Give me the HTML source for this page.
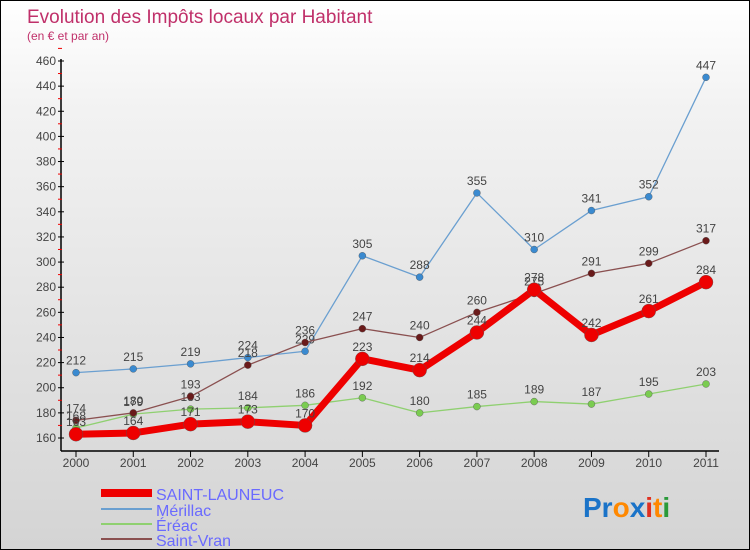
<!DOCTYPE html>
<html><head><meta charset="utf-8"><style>
body{margin:0}
#c{position:relative;width:748px;height:548px;border:1px solid #000;background:linear-gradient(#fff,#f2f2f2 20%,#d4d4d4);font-family:"Liberation Sans",sans-serif;overflow:hidden}
</style></head><body>
<div id="c">
<svg id="s" width="748" height="548" style="position:absolute;left:0;top:0" font-family="Liberation Sans, sans-serif">
<text x="26" y="22" font-size="19" fill="#c0306a">Evolution des Impôts locaux par Habitant</text>
<text x="26" y="39" font-size="12" fill="#c0306a">(en € et par an)</text>
<g id="axes"></g><g id="series"></g>
<g>
<line x1="100" y1="492" x2="151" y2="492" stroke="#e00" stroke-width="8"/>
<text x="155" y="499" font-size="16" fill="#6a6aff">SAINT-LAUNEUC</text>
<line x1="100" y1="508" x2="151" y2="508" stroke="#6a9fd0" stroke-width="2"/>
<text x="155" y="515" font-size="16" fill="#6a6aff">Mérillac</text>
<line x1="100" y1="523" x2="151" y2="523" stroke="#8fd070" stroke-width="2"/>
<text x="155" y="530" font-size="16" fill="#6a6aff">Éréac</text>
<line x1="100" y1="538" x2="151" y2="538" stroke="#8a5050" stroke-width="2"/>
<text x="155" y="545" font-size="16" fill="#6a6aff">Saint-Vran</text>
</g>
<text x="582" y="516" font-size="28" font-weight="bold"><tspan fill="#1a73c8">Pr</tspan><tspan fill="#ff8800">o</tspan><tspan fill="#1a73c8">x</tspan><tspan fill="#e03020">i</tspan><tspan fill="#ff8800">t</tspan><tspan fill="#2a9a3a">i</tspan></text>
</svg>
</div>
<script>
const years=[2000,2001,2002,2003,2004,2005,2006,2007,2008,2009,2010,2011];
const saintLauneuc=[163,164,171,173,170,223,214,244,278,242,261,284];
const merillac=[212,215,219,224,229,305,288,355,310,341,352,447];
const ereac=[168,179,183,184,186,192,180,185,189,187,195,203];
const saintVran=[174,180,193,218,236,247,240,260,275,291,299,317];
const yTicks=[160,180,200,220,240,260,280,300,320,340,360,380,400,420,440,460];
const NS="http://www.w3.org/2000/svg";
const X=i=>75+i*(630/11);
const Y=v=>437-(v-160)*377/300;
function mk(p,t,a){const e=document.createElementNS(NS,t);for(const k in a)e.setAttribute(k,a[k]);p.appendChild(e);return e;}
const ax=document.getElementById('axes');
let l=mk(ax,'line',{x1:60,y1:58,x2:60,y2:450,stroke:'#000','stroke-width':1.5});


l=mk(ax,'line',{x1:60,y1:450,x2:718,y2:450,stroke:'#000','stroke-width':1.5});


yTicks.forEach(v=>{const y=Y(v);mk(ax,'line',{x1:57,y1:y,x2:63,y2:y,stroke:'#000'});
 mk(ax,'line',{x1:57,y1:y-12.6,x2:61,y2:y-12.6,stroke:'#e00'});
 const t=mk(ax,'text',{x:55,y:y+4,'font-size':12,fill:'#444','text-anchor':'end'});t.textContent=v;
 
 });
years.forEach((yr,i)=>{const x=X(i);mk(ax,'line',{x1:x,y1:450,x2:x,y2:456,stroke:'#000'});
 const t=mk(ax,'text',{x:x,y:466,'font-size':12,fill:'#444','text-anchor':'middle'});t.textContent=yr;
 
 });
const sg=document.getElementById('series');
function draw(name,vals,color,w,r,dot){
 const g=mk(sg,'g',{});
 
 
 mk(g,'polyline',{points:vals.map((v,i)=>X(i)+','+Y(v)).join(' '),fill:'none',stroke:color,'stroke-width':w,'stroke-linejoin':'round'});
 vals.forEach((v,i)=>{const c=mk(g,'circle',{cx:X(i),cy:Y(v),r:r,fill:dot,stroke:'#555','stroke-width':0.4});
  
  
  const t=mk(g,'text',{x:X(i),y:Y(v)-8,'font-size':12,fill:'#444','text-anchor':'middle'});t.textContent=v;
  
  });
}
draw('series-merillac',merillac,'#6a9fd0',1.3,3.5,'#3a8ad0');
draw('series-ereac',ereac,'#8fd070',1.3,3.5,'#7acc50');
draw('series-saint-vran',saintVran,'#8a5050',1.3,3.5,'#6a1a1a');
draw('series-saint-launeuc',saintLauneuc,'#e00',7,7,'#e00');
</script>
</body></html>
